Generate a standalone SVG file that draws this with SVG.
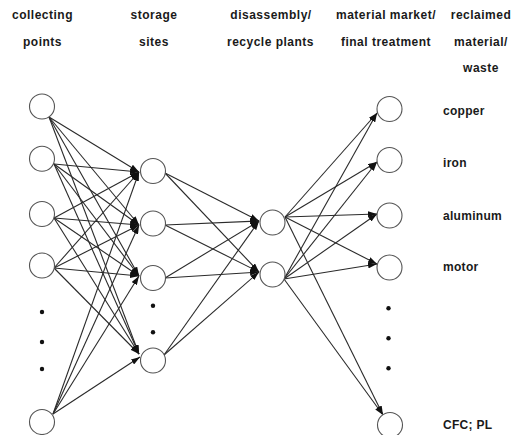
<svg xmlns="http://www.w3.org/2000/svg" width="521" height="435" viewBox="0 0 521 435">
<style>
.hdr{font-family:"Liberation Sans",Arial,sans-serif;font-size:12px;font-weight:bold;fill:#1a1a1a;text-anchor:middle;letter-spacing:0.5px}
.lbl{font-family:"Liberation Sans",Arial,sans-serif;font-size:12px;font-weight:bold;fill:#1a1a1a;letter-spacing:0.3px}
.node{fill:#fff;stroke:#555;stroke-width:1.1}
.edge{fill:none;stroke:#2a2a2a;stroke-width:1.1;marker-end:url(#arr)}
.dot{fill:#111}
</style>
<defs>
<marker id="arr" viewBox="0 0 9 6" refX="9" refY="3" markerWidth="9" markerHeight="6" orient="auto" markerUnits="userSpaceOnUse">
<path d="M0,0 L9,3 L0,6 z" fill="#111"/>
</marker>
</defs>
<rect width="521" height="435" fill="#fff"/>
<g id="headers">
<text class="hdr" x="42.5" y="18.5">collecting</text>
<text class="hdr" x="42.5" y="45.5">points</text>
<text class="hdr" x="154" y="18.5">storage</text>
<text class="hdr" x="154" y="45.5">sites</text>
<text class="hdr" x="271" y="18.5">disassembly/</text>
<text class="hdr" x="270.5" y="45.5">recycle plants</text>
<text class="hdr" x="386" y="18.5">material market/</text>
<text class="hdr" x="386" y="45.5">final treatment</text>
<text class="hdr" x="481" y="18.5">reclaimed</text>
<text class="hdr" x="481" y="45.5">material/</text>
<text class="hdr" x="481" y="72">waste</text>
</g>
<g id="connectors">
<path class="edge" d="M49,117 L139,172"/>
<path class="edge" d="M49,117 L139,225"/>
<path class="edge" d="M49,117 L139,276"/>
<path class="edge" d="M49,117 L139,354"/>
<path class="edge" d="M54,164 L139,172"/>
<path class="edge" d="M54,164 L139,225"/>
<path class="edge" d="M54,164 L139,276"/>
<path class="edge" d="M54,164 L139,354"/>
<path class="edge" d="M54,218 L139,172"/>
<path class="edge" d="M54,218 L139,225"/>
<path class="edge" d="M54,218 L139,276"/>
<path class="edge" d="M54,218 L139,354"/>
<path class="edge" d="M54,268 L139,172"/>
<path class="edge" d="M54,268 L139,225"/>
<path class="edge" d="M54,268 L139,276"/>
<path class="edge" d="M54,268 L139,354"/>
<path class="edge" d="M53,414 L139,172"/>
<path class="edge" d="M53,414 L139,225"/>
<path class="edge" d="M53,414 L139,276"/>
<path class="edge" d="M53,414 L140,357"/>
<path class="edge" d="M165,173 L259,221"/>
<path class="edge" d="M165,173 L259,272"/>
<path class="edge" d="M165,225 L259,221"/>
<path class="edge" d="M165,225 L259,272"/>
<path class="edge" d="M165,278 L259,221"/>
<path class="edge" d="M165,278 L259,272"/>
<path class="edge" d="M164,355 L259,221"/>
<path class="edge" d="M164,355 L259,272"/>
<path class="edge" d="M285,217 L377,113"/>
<path class="edge" d="M285,217 L377,162"/>
<path class="edge" d="M285,217 L377,214"/>
<path class="edge" d="M285,217 L377,264"/>
<path class="edge" d="M285,217 L383,415"/>
<path class="edge" d="M284,279 L377,113"/>
<path class="edge" d="M284,279 L377,162"/>
<path class="edge" d="M284,279 L377,214"/>
<path class="edge" d="M284,279 L377,264"/>
<path class="edge" d="M284,279 L383,415"/>
</g>
<g id="collecting-points">
<g id="cp1"><circle class="node" cx="42" cy="106.5" r="12.5"/></g>
<g id="cp2"><circle class="node" cx="42" cy="158.8" r="12.5"/></g>
<g id="cp3"><circle class="node" cx="42" cy="214" r="12.5"/></g>
<g id="cp4"><circle class="node" cx="42" cy="265.5" r="12.5"/></g>
<g id="cp-dots"><circle class="dot" cx="42" cy="312" r="2.2"/><circle class="dot" cx="42" cy="342" r="2.2"/><circle class="dot" cx="42" cy="369" r="2.2"/></g>
<g id="cp5"><circle class="node" cx="42" cy="422" r="12.5"/></g>
</g>
<g id="storage-sites">
<g id="ss1"><circle class="node" cx="153" cy="171" r="12.5"/></g>
<g id="ss2"><circle class="node" cx="153" cy="223.5" r="12.5"/></g>
<g id="ss3"><circle class="node" cx="153" cy="278" r="12.5"/></g>
<g id="ss-dots"><circle class="dot" cx="153" cy="305.7" r="2.2"/><circle class="dot" cx="153" cy="332.3" r="2.2"/></g>
<g id="ss4"><circle class="node" cx="153" cy="360.5" r="12.5"/></g>
</g>
<g id="plants">
<g id="dp1"><circle class="node" cx="272.5" cy="222.5" r="12.5"/></g>
<g id="dp2"><circle class="node" cx="272.5" cy="274.5" r="12.5"/></g>
</g>
<g id="markets">
<g id="mk1"><circle class="node" cx="389.5" cy="109" r="12.5"/></g>
<g id="mk2"><circle class="node" cx="389.5" cy="160" r="12.5"/></g>
<g id="mk3"><circle class="node" cx="389.5" cy="215.5" r="12.5"/></g>
<g id="mk4"><circle class="node" cx="389.5" cy="267.5" r="12.5"/></g>
<g id="mk-dots"><circle class="dot" cx="388.5" cy="308.3" r="2.2"/><circle class="dot" cx="388.5" cy="338.3" r="2.2"/><circle class="dot" cx="388.5" cy="368.3" r="2.2"/></g>
<g id="mk5"><circle class="node" cx="390" cy="425" r="12.5"/></g>
</g>
<g id="labels">
<text class="lbl" x="443" y="115">copper</text>
<text class="lbl" x="443" y="166.5">iron</text>
<text class="lbl" x="443" y="220">aluminum</text>
<text class="lbl" x="443" y="271">motor</text>
<text class="lbl" x="443" y="429">CFC; PL</text>
</g>
</svg>
